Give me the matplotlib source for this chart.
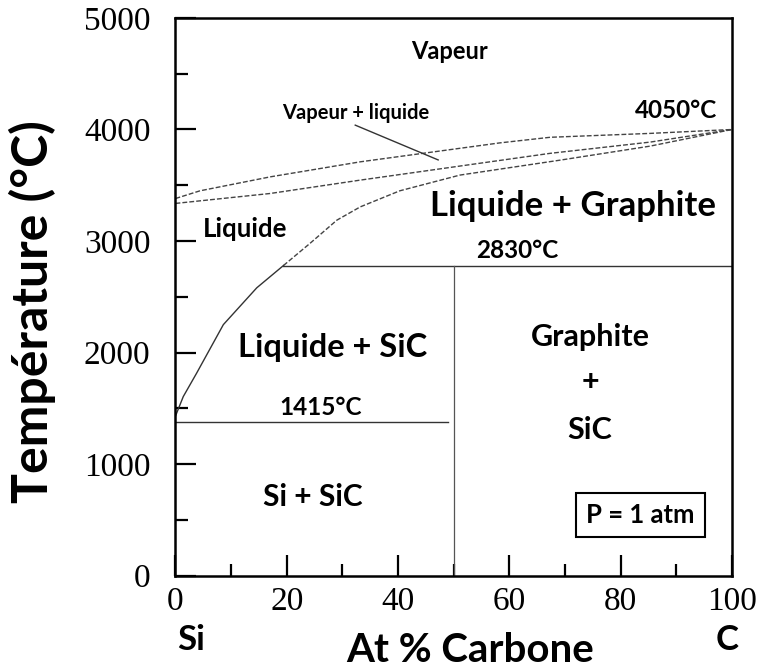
import matplotlib
matplotlib.use("Agg")
import matplotlib.pyplot as plt
from matplotlib.ticker import MultipleLocator

# ---- data ----
si_liq_x = [0, 1.4, 3.8, 8.6, 14.6, 19.4]
si_liq_t = [1430, 1605, 1815, 2250, 2580, 2780]

gr_liq_x = [19.4, 24.2, 29.0, 33.2, 40.3, 51.1, 69.1, 85.3, 100]
gr_liq_t = [2780, 2980, 3187, 3306, 3450, 3591, 3725, 3851, 4000]

mid_x = [0, 17, 33.2, 67.3, 85.3, 100]
mid_t = [3337, 3426, 3546, 3786, 3887, 4000]

vap_x = [0, 4.4, 17, 33.2, 58.3, 67.3, 85.3, 100]
vap_t = [3381, 3450, 3575, 3710, 3880, 3930, 3965, 4000]

peritectic_t = 2780   # drawn "2830°C" line
eutectic_t = 1380     # drawn "1415°C" line
sic_x = 50

x_ticks = [0, 20, 40, 60, 80, 100]
y_ticks = [0, 1000, 2000, 3000, 4000, 5000]

FS = ["Lato", "DejaVu Sans"]

fig = plt.figure(figsize=(7.63, 6.71), dpi=100)
ax = fig.add_axes([0.230, 0.1423, 0.7294, 0.8309])
ax.set_xlim(0, 100)
ax.set_ylim(0, 5000)

dash = dict(color="#444444", lw=1.0, ls=(0, (3.5, 1.5)))
ax.plot(vap_x, vap_t, **dash)
ax.plot(mid_x, mid_t, **dash)
ax.plot(gr_liq_x, gr_liq_t, **dash)
ax.plot(si_liq_x, si_liq_t, color="#333333", lw=1.0)

ax.plot([si_liq_x[-1], 100], [peritectic_t, peritectic_t], color="#333333", lw=1.0)
ax.plot([0, 49], [eutectic_t, eutectic_t], color="#333333", lw=1.0)
ax.plot([sic_x, sic_x], [0, peritectic_t], color="#555555", lw=0.9)

# leader line
ax.plot([32.3, 47.2], [4039, 3727], color="#333333", lw=1.0)

for s in ax.spines.values():
    s.set_linewidth(1.8)

ax.set_xticks(x_ticks)
ax.set_yticks(y_ticks)
ax.xaxis.set_minor_locator(MultipleLocator(10))
ax.yaxis.set_minor_locator(MultipleLocator(500))
ax.tick_params(which="both", direction="in", top=False, right=False, width=1.6)
ax.tick_params(which="major", length=15)
ax.tick_params(which="minor", length=9)
ax.tick_params(axis="y", which="major", pad=18)
ax.tick_params(axis="x", which="major", pad=8)
for lab in ax.get_xticklabels() + ax.get_yticklabels():
    lab.set_fontfamily("Liberation Serif")
    lab.set_fontsize(24)

def t(x, y, s, size, **kw):
    ax.text(x, y, s, fontsize=size, fontweight="bold", family=FS,
            ha="center", va="center", **kw)

t(49.3, 4703, "Vapeur", 17)
t(32.3, 4150, "Vapeur + liquide", 14.5)
t(90.0, 4168, "4050°C", 17.5)
t(71.5, 3310, "Liquide + Graphite", 25)
t(12.5, 3104, "Liquide", 18.5)
t(61.4, 2915, "2830°C", 17.5)
t(28.3, 2049, "Liquide + SiC", 23.5)
t(26.0, 1505, "1415°C", 17.5)
t(74.5, 2138, "Graphite", 22)
t(74.5, 1738, "+", 22)
t(74.5, 1307, "SiC", 22)
t(24.6, 705, "Si + SiC", 21.5)
ax.text(83.5, 543, "P = 1 atm", fontsize=18.5, fontweight="bold", family=FS,
        ha="center", va="center",
        bbox=dict(boxstyle="square,pad=0.4", fc="white", ec="black", lw=1.5))

fig.text(0.043, 0.535, "Température (°C)", rotation=90, fontsize=36,
         fontweight="bold", family=FS, ha="center", va="center")
fig.text(0.250, 0.046, "Si", fontsize=25, fontweight="bold", family=FS,
         ha="center", va="center")
fig.text(0.953, 0.046, "C", fontsize=25, fontweight="bold", family=FS,
         ha="center", va="center")
fig.text(0.616, 0.031, "At % Carbone", fontsize=29, fontweight="bold",
         family=FS, ha="center", va="center")

fig.savefig("out.png", dpi=100, facecolor="white")
